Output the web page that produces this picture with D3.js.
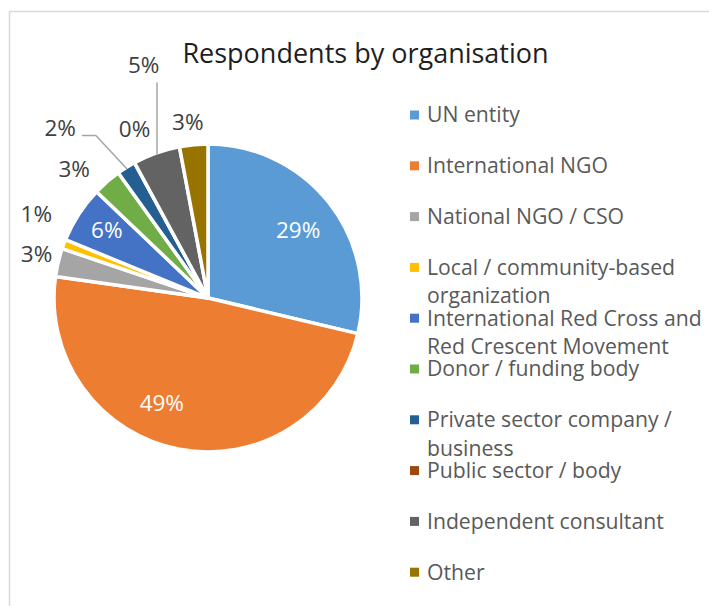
<!DOCTYPE html>
<html>
<head>
<meta charset="utf-8">
<script src="https://cdn.jsdelivr.net/npm/d3@7/dist/d3.min.js"></script>
<style>
  html, body { margin: 0; padding: 0; background: #fff; }
  svg { display: block; font-family: "Open Sans", sans-serif; }
</style>
</head>
<body>
<svg id="chart" width="709" height="606"></svg>
<script>
// Respondents by type of organisation (percent of all respondents)
const categories = [
  "UN entity",
  "International NGO",
  "National NGO / CSO",
  "Local / community-based organization",
  "International Red Cross and Red Crescent Movement",
  "Donor / funding body",
  "Private sector company / business",
  "Public sector / body",
  "Independent consultant",
  "Other"
];
const shares = [29, 49, 3, 1, 6, 3, 2, 0, 5, 3];
const sliceColors = ["#5B9BD5", "#ED7D31", "#A5A5A5", "#FFC000", "#4472C4",
                     "#70AD47", "#255E91", "#9E480E", "#636363", "#997300"];
const chartTitle = "Respondents by organisation";

const W = 709, H = 606;
const cx = 208, cy = 298, R = 154;

// Label placement around each slice: inside or outside, radial distance,
// a small angular nudge (degrees) and an optional leader line.
const labelLayout = [
  { inside: true,  r: 113, dA: 1.2 },
  { inside: true,  r: 115, dA: 13 },
  { inside: false, r: 177, dA: 1 },
  { inside: false, r: 191, dA: 5.5 },
  { inside: true,  r: 122, dA: 1 },
  { inside: false, r: 186, dA: -5 },
  { inside: false, r: 225, dA: -9, leader: "elbow" },
  { inside: false, r: 184, dA: 5 },
  { inside: false, r: 242, dA: 4.2, leader: "vertical" },
  { inside: false, r: 177, dA: -1.2 }
];

const svg = d3.select("#chart");

// chart-area frame
svg.append("rect")
  .attr("x", 9.5).attr("y", 11.5)
  .attr("width", W + 20).attr("height", H + 20)
  .attr("fill", "none").attr("stroke", "#d9d9d9").attr("stroke-width", 1.5);

svg.append("text")
  .attr("x", 365.5).attr("y", 53.5)
  .attr("text-anchor", "middle")
  .attr("dy", "0.35em")
  .attr("font-size", 27)
  .attr("fill", "#1f1f1f")
  .text(chartTitle);

const data = categories.map((c, i) => ({ name: c, value: shares[i], color: sliceColors[i], i }));

const pie = d3.pie().sort(null).value(d => d.value).startAngle(0).endAngle(2 * Math.PI);
const arcs = pie(data);
const arc = d3.arc().innerRadius(0).outerRadius(R);

const g = svg.append("g").attr("transform", `translate(${cx},${cy})`);

g.selectAll("path.slice")
  .data(arcs)
  .join("path")
  .attr("class", "slice")
  .attr("d", arc)
  .attr("fill", d => d.data.color)
  .attr("stroke", "#fff")
  .attr("stroke-width", 3.5)
  .attr("stroke-linejoin", "round");

const polar = (angle, r) => [r * Math.sin(angle), -r * Math.cos(angle)];
const deg = Math.PI / 180;

arcs.forEach((a, i) => {
  const lay = labelLayout[i];
  const mid = (a.startAngle + a.endAngle) / 2;
  const ang = mid + lay.dA * deg;
  const [lx, ly] = polar(ang, lay.r);
  const t = g.append("text")
    .attr("x", lx).attr("y", ly)
    .attr("dy", "0.35em")
    .attr("text-anchor", "middle")
    .attr("font-size", 22.5)
    .attr("fill", lay.inside ? "#ffffff" : "#404040")
    .text(a.data.value + "%");

  if (lay.leader) {
    const bb = t.node().getBBox();
    const [sx, sy] = polar(mid, R - 2);
    let pts;
    if (lay.leader === "elbow") {
      const ex = bb.x + bb.width + 6, ey = ly + 7;
      pts = [[sx, sy], [ex + 14, ey], [ex, ey]];
    } else {
      pts = [[sx, sy], [sx, bb.y + bb.height + 3]];
    }
    g.insert("path", "text")
      .attr("d", d3.line()(pts))
      .attr("fill", "none")
      .attr("stroke", "#a6a6a6")
      .attr("stroke-width", 1.5);
  }
});

// legend
const legend = svg.append("g");
const legX = 410, legY0 = 115, legStep = 50.8, lineH = 28.5, maxW = 285;
data.forEach((d, i) => {
  const y = legY0 + i * legStep;
  legend.append("rect")
    .attr("x", legX).attr("y", y - 4.5)
    .attr("width", 9).attr("height", 9)
    .attr("fill", d.color);
  const txt = legend.append("text")
    .attr("x", legX + 17).attr("y", y)
    .attr("dy", "0.35em")
    .attr("font-size", 21.2)
    .attr("fill", "#595959");
  // wrap long names onto a second line
  const words = d.name.split(" ");
  let line = [], tspan = txt.append("tspan").attr("x", legX + 17);
  words.forEach(w => {
    line.push(w);
    tspan.text(line.join(" "));
    if (tspan.node().getComputedTextLength() > maxW && line.length > 1) {
      line.pop();
      tspan.text(line.join(" "));
      line = [w];
      tspan = txt.append("tspan").attr("x", legX + 17).attr("dy", lineH).text(w);
    }
  });
});
</script>
</body>
</html>
